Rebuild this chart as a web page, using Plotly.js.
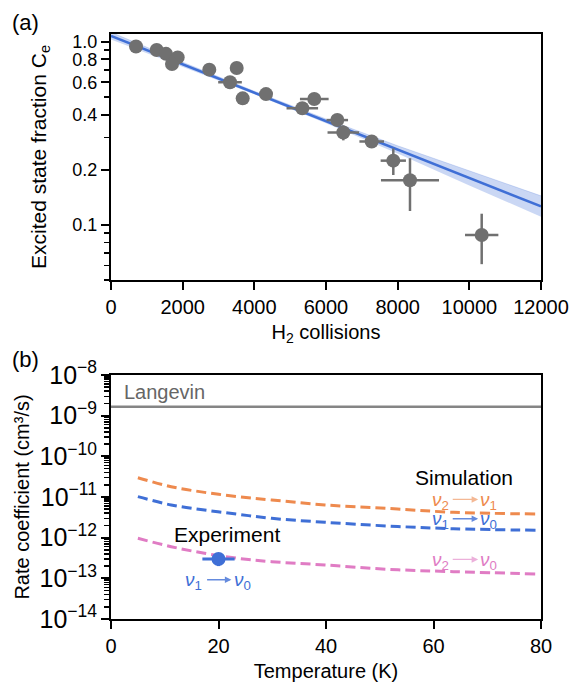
<!DOCTYPE html>
<html>
<head>
<meta charset="utf-8">
<script src="https://cdn.plot.ly/plotly-3.0.1.min.js"></script>
<style>html,body{margin:0;padding:0;background:#fff;}#chart{width:571px;height:683px;}</style>
</head>
<body>
<div id="chart"></div>
<script>
// ---- Panel (a): excited state fraction vs H2 collisions ----
const collisions    = [698, 1275, 1535, 1861, 1702, 2743, 3508, 3321, 3675, 4326, 5339, 5673, 6315, 6483, 7275, 7878, 8344, 10345];
const fraction      = [0.94, 0.90, 0.857, 0.82, 0.755, 0.703, 0.718, 0.60, 0.49, 0.517, 0.433, 0.486, 0.373, 0.319, 0.285, 0.224, 0.175, 0.088];
const collisionsErr = [0, 0, 0, 0, 0, 0, 0, 330, 0, 0, 440, 400, 300, 440, 343, 353, 810, 465];
const fractionErr   = [0, 0, 0, 0, 0, 0, 0, 0, 0, 0, 0, 0, 0.02, 0.03, 0.022, 0.037, 0.056, 0.027];

const fitX     = [0, 2000, 4000, 6000, 8000, 10000, 12000];
const fitY     = [1.074, 0.751, 0.526, 0.368, 0.257, 0.180, 0.126];
const fitLower = [1.026, 0.730, 0.516, 0.358, 0.245, 0.164, 0.1107];
const fitUpper = [1.124, 0.772, 0.536, 0.378, 0.270, 0.197, 0.1439];

const fracTicks      = [0.1, 0.2, 0.4, 0.6, 0.8, 1.0];
const fracTickText   = ['0.1', '0.2', '0.4', '0.6', '0.8', '1.0'];
const fracMinorTicks = [0.05, 0.06, 0.07, 0.08, 0.09, 0.3, 0.5, 0.7, 0.9];
const collisionTicks = [0, 2000, 4000, 6000, 8000, 10000, 12000];
const collisionTickText = ['0', '2000', '4000', '6000', '8000', '10000', '12000'];

// ---- Panel (b): rate coefficient vs temperature ----
const temperature = [5, 11.2, 17.4, 23.6, 29.9, 39.8, 51.3, 63.7, 79.3];
const rate21 = [2.98e-11, 1.79e-11, 1.30e-11, 1.02e-11, 8.45e-12, 6.37e-12, 5.27e-12, 4.21e-12, 3.82e-12];
const rate10 = [1.02e-11, 6.37e-12, 4.79e-12, 3.76e-12, 2.99e-12, 2.39e-12, 1.94e-12, 1.66e-12, 1.52e-12];
const rate20 = [9.66e-13, 6.0e-13, 4.13e-13, 3.11e-13, 2.57e-13, 2.13e-13, 1.67e-13, 1.46e-13, 1.28e-13];
const langevinT = [0, 80];
const langevinRate = [1.66e-9, 1.66e-9];
const expT = [20];
const expRate = [3.0e-13];
const expTErr = [3];
const expRateErr = [1.0e-13];
const tempTicks = [0, 20, 40, 60, 80];

const cOrange = '#EE8A4E', cBlue = '#3F6FD6', cPink = '#E07CC4', cGray = '#707070';
const FONT = 'Liberation Sans, Arial, sans-serif';

const traces = [
  {x: fitX, y: fitLower, xaxis: 'x', yaxis: 'y', mode: 'lines', line: {width: 0, color: 'rgba(63,111,214,0)'}, showlegend: false, hoverinfo: 'skip'},
  {x: fitX, y: fitUpper, xaxis: 'x', yaxis: 'y', mode: 'lines', fill: 'tonexty', fillcolor: 'rgba(63,111,214,0.28)', line: {width: 0.8, color: 'rgba(63,111,214,0.25)'}, showlegend: false, hoverinfo: 'skip'},
  {x: fitX, y: fitY, xaxis: 'x', yaxis: 'y', mode: 'lines', line: {width: 2.5, color: cBlue}, showlegend: false},
  {x: collisions, y: fraction, xaxis: 'x', yaxis: 'y', mode: 'markers', type: 'scatter',
   marker: {size: 14, color: cGray},
   error_x: {type: 'data', array: collisionsErr, color: cGray, thickness: 2.5, width: 0},
   error_y: {type: 'data', array: fractionErr, color: cGray, thickness: 2.5, width: 0},
   showlegend: false},

  {x: langevinT, y: langevinRate, xaxis: 'x2', yaxis: 'y2', mode: 'lines', line: {color: '#858585', width: 2.5}, showlegend: false},
  {x: temperature, y: rate21, xaxis: 'x2', yaxis: 'y2', mode: 'lines', line: {color: cOrange, width: 3, dash: '10px,5px', shape: 'spline'}, showlegend: false},
  {x: temperature, y: rate10, xaxis: 'x2', yaxis: 'y2', mode: 'lines', line: {color: cBlue, width: 3, dash: '10px,5px', shape: 'spline'}, showlegend: false},
  {x: temperature, y: rate20, xaxis: 'x2', yaxis: 'y2', mode: 'lines', line: {color: cPink, width: 3, dash: '10px,5px', shape: 'spline'}, showlegend: false},
  {x: expT, y: expRate, xaxis: 'x2', yaxis: 'y2', mode: 'markers',
   marker: {size: 14, color: cBlue},
   error_x: {type: 'data', array: expTErr, color: cBlue, thickness: 3, width: 0},
   error_y: {type: 'data', array: expRateErr, color: cBlue, thickness: 3, width: 0},
   showlegend: false}
];

const L10 = Math.log10;
function nuAnn(xl, xr, a0, a1, ylog, sub1, sub2, color, arrowColor) {
  return [
    {xref: 'x2', yref: 'y2', x: xl, y: ylog, text: '<i>ν</i><sub>' + sub1 + '</sub>', showarrow: false, font: {family: FONT, size: 19, color: color}},
    {xref: 'x2', yref: 'y2', x: xr, y: ylog, text: '<i>ν</i><sub>' + sub2 + '</sub>', showarrow: false, font: {family: FONT, size: 19, color: color}},
    {xref: 'x2', yref: 'y2', axref: 'x2', ayref: 'y2', x: a1, y: ylog + 0.03, ax: a0, ay: ylog + 0.03, text: '', showarrow: true,
     arrowhead: 2, arrowsize: 1, arrowwidth: 1.3, arrowcolor: arrowColor}
  ];
}

const annotations = [
  {xref: 'paper', yref: 'paper', x: -0.235, y: 1.02, xanchor: 'left', yanchor: 'middle', text: '(a)', showarrow: false, font: {family: FONT, size: 22, color: '#000'}},
  {xref: 'paper', yref: 'paper', x: -0.235, y: 0.443, xanchor: 'left', yanchor: 'middle', text: '(b)', showarrow: false, font: {family: FONT, size: 22, color: '#000'}},
  {xref: 'x2', yref: 'y2', x: 2.0, y: -8.42, xanchor: 'left', yanchor: 'middle', text: 'Langevin', showarrow: false, font: {family: FONT, size: 20, color: '#666'}},
  {xref: 'x2', yref: 'y2', x: 65.7, y: -10.51, text: 'Simulation', showarrow: false, font: {family: FONT, size: 21, color: '#000'}},
  {xref: 'x2', yref: 'y2', x: 21.6, y: -11.91, text: 'Experiment', showarrow: false, font: {family: FONT, size: 21, color: '#000'}}
].concat(
  nuAnn(61.3, 70.2, 63.3, 68.3, -11.09, '2', '1', cOrange, 'rgba(238,138,78,0.6)'),
  nuAnn(61.3, 70.2, 63.3, 68.3, -11.565, '1', '0', cBlue, 'rgba(63,111,214,0.8)'),
  nuAnn(61.3, 70.2, 63.3, 68.3, -12.566, '2', '0', cPink, 'rgba(224,124,196,0.6)'),
  nuAnn(15.4, 24.5, 17.6, 22.4, -13.065, '1', '0', cBlue, 'rgba(63,111,214,0.8)')
);

const axisCommon = {
  showline: true, mirror: true, linecolor: '#000', linewidth: 2,
  ticks: 'outside', tickcolor: '#000', tickwidth: 2, ticklen: 8,
  showgrid: false, zeroline: false,
  tickfont: {family: FONT, size: 20, color: '#000'}
};

const layout = {
  width: 571, height: 683,
  margin: {l: 111, r: 30, t: 34, b: 64},
  paper_bgcolor: '#fff', plot_bgcolor: '#fff',
  font: {family: FONT, color: '#000'},
  showlegend: false,
  xaxis: Object.assign({}, axisCommon, {
    anchor: 'y', domain: [0, 1], range: [0, 12000],
    tickmode: 'array', tickvals: collisionTicks, ticktext: collisionTickText,
    title: {text: 'H<sub>2</sub> collisions', font: {family: FONT, size: 20}, standoff: 8}
  }),
  yaxis: Object.assign({}, axisCommon, {
    anchor: 'x', domain: [0.5795, 1], type: 'log', range: [L10(0.05), L10(1.1)],
    tickmode: 'array', tickvals: fracTicks, ticktext: fracTickText,
    tickfont: {family: FONT, size: 18, color: '#000'},
    minor: {tickmode: 'array', tickvals: fracMinorTicks, ticklen: 5, tickwidth: 1.5, tickcolor: '#000', ticks: 'outside'},
    title: {text: 'Excited state fraction C<sub>e</sub>', font: {family: FONT, size: 21}, standoff: 20}
  }),
  xaxis2: Object.assign({}, axisCommon, {
    anchor: 'y2', domain: [0, 1], range: [0, 80],
    tickmode: 'array', tickvals: tempTicks,
    title: {text: 'Temperature (K)', font: {family: FONT, size: 20}, standoff: 8}
  }),
  yaxis2: Object.assign({}, axisCommon, {
    anchor: 'x2', domain: [0, 0.4171], type: 'log', range: [-14, -8],
    dtick: 1, exponentformat: 'power', showexponent: 'all',
    minor: {dtick: 'D1', ticklen: 5, tickwidth: 1.5, tickcolor: '#000', ticks: 'outside'},
    title: {text: 'Rate coefficient (cm³/s)', font: {family: FONT, size: 20}, standoff: 4}
  }),
  annotations: annotations
};

Plotly.newPlot('chart', traces, layout, {displayModeBar: false, staticPlot: true});
</script>
</body>
</html>
